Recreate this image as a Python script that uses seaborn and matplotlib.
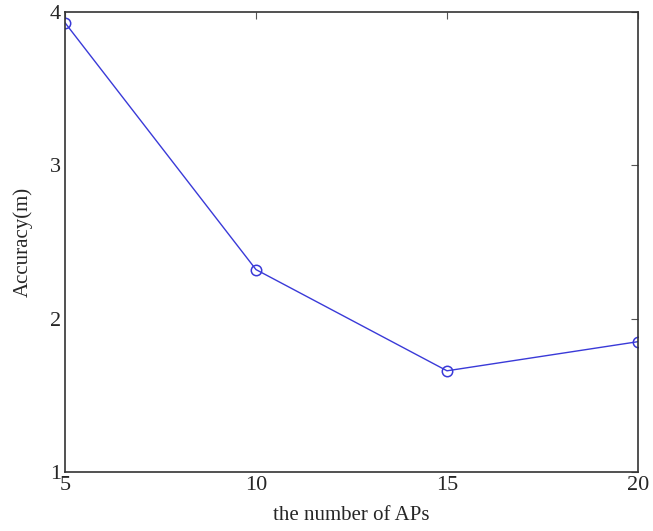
import matplotlib
matplotlib.use("Agg")
import matplotlib.pyplot as plt
import seaborn as sns
import pandas as pd

num_aps = [5, 10, 15, 20]
accuracy = [3.93, 2.32, 1.66, 1.85]
x_ticks = [5, 10, 15, 20]
y_ticks = [1, 2, 3, 4]

df = pd.DataFrame({"aps": num_aps, "acc": accuracy})

sns.set_style("white")
plt.rcParams["font.family"] = ["Liberation Serif", "DejaVu Serif"]

fig = plt.figure(figsize=(6.53, 5.31), dpi=100)
ax = fig.add_axes([65/653, 1 - 472/531, (638 - 65)/653, (472 - 12)/531])

sns.lineplot(data=df, x="aps", y="acc", ax=ax, color="#3a3ad8", linewidth=1.0,
             marker="o", markersize=7.5, markerfacecolor="none",
             markeredgecolor="#3a3ad8", markeredgewidth=1.1)

ax.set_xlim(5, 20)
ax.set_ylim(1, 4)
ax.set_xticks(x_ticks)
ax.set_yticks(y_ticks)
ax.tick_params(direction="in", top=True, right=True, length=5, width=0.8,
               labelsize=16, color="#555555", pad=3)
for s in ax.spines.values():
    s.set_visible(True)
    s.set_color("#333333")
    s.set_linewidth(1.2)
ax.set_xlabel("the number of APs", fontsize=15, labelpad=8)
ax.set_ylabel("Accuracy(m)", fontsize=15, labelpad=12)

fig.savefig("out.png", dpi=100)
